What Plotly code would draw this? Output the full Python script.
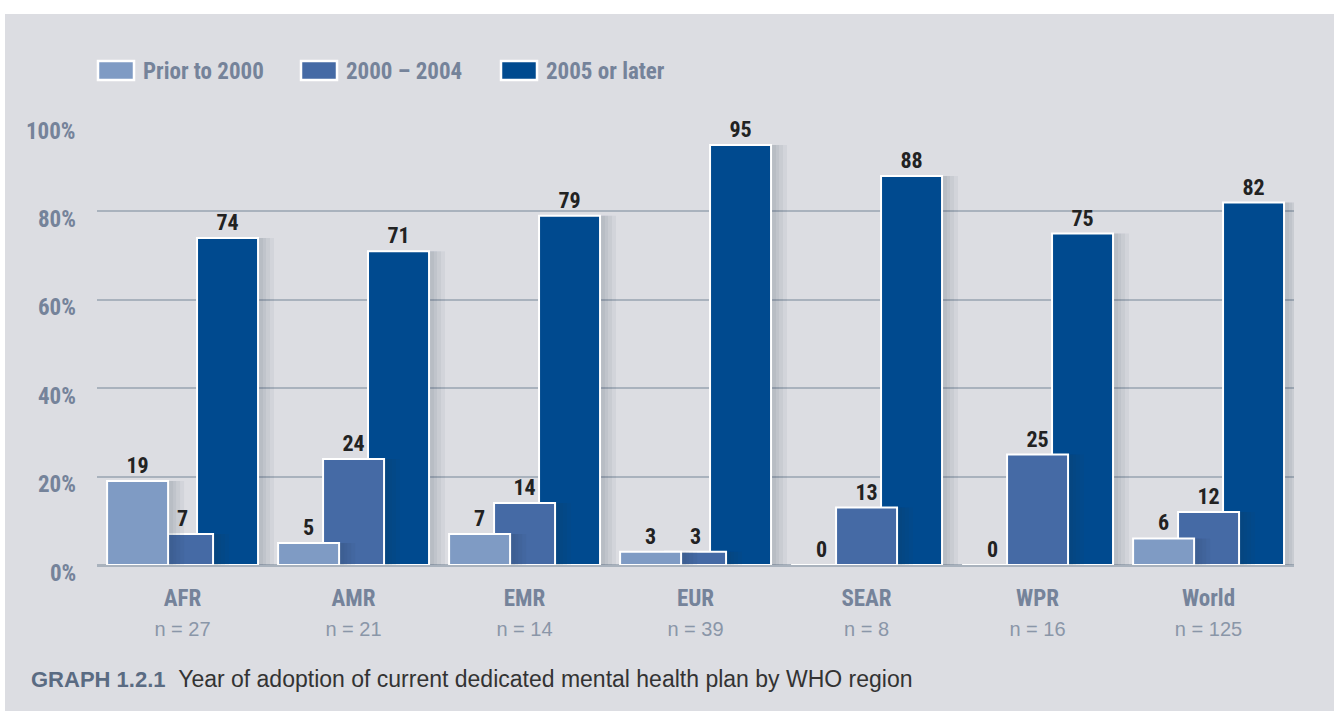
import plotly.graph_objects as go

regions = ["AFR", "AMR", "EMR", "EUR", "SEAR", "WPR", "World"]
n_counts = [27, 21, 14, 39, 8, 16, 125]
prior_2000 = [19, 5, 7, 3, 0, 0, 6]
y2000_2004 = [7, 24, 14, 3, 13, 25, 12]
y2005_later = [74, 71, 79, 95, 88, 75, 82]
y_ticks = [0, 20, 40, 60, 80, 100]
series_names = ["Prior to 2000", "2000 – 2004", "2005 or later"]
series_colors = ["#7f9bc4", "#456aa5", "#004a8f"]

NARROW = "Liberation Sans Narrow, Roboto Condensed, Arial Narrow, sans-serif"
SANS = "Liberation Sans, Arial, Helvetica, sans-serif"
BG = "#dcdde2"
GRID = "#a9b2bd"
LABEL = "#75839a"

W, H = 1334, 711
L, R, T, B = 97, 40, 123, 146
pw, ph = W - L - R, H - T - B
CAT_PX = pw / 7.0


def px2x(px):
    return (px - L) / pw


def px2y(py):
    return (H - B - py) / ph


tick_text = [
    f"<b>{r}</b><br><span style='font-family:{SANS};font-size:20px;color:#8a96a8'>n = {n}</span>"
    for r, n in zip(regions, n_counts)
]

bar_width = 61 / CAT_PX
offsets = [-0.441, -0.178, 0.085]
values = [prior_2000, y2000_2004, y2005_later]

fig = go.Figure()
# draw back-to-front: 2005, 2000-2004, prior (prior is in front)
for idx in [2, 1, 0]:
    vals = values[idx]
    # soft shadow layers to the right of each bar
    for ext in [14, 10, 6, 3]:
        fig.add_trace(go.Bar(
            x=regions, y=vals, showlegend=False, hoverinfo="skip",
            marker=dict(color="rgba(40,50,80,0.05)", line=dict(width=0)),
            offset=offsets[idx] + 2 / CAT_PX, width=bar_width + ext / CAT_PX,
        ))
    fig.add_trace(go.Bar(
        x=regions, y=vals, name=series_names[idx], showlegend=False,
        marker=dict(color=series_colors[idx], line=dict(color="white", width=2)),
        offset=offsets[idx], width=bar_width,
        text=[str(v) for v in vals], textposition="outside",
        textfont=dict(family=NARROW, size=22, color="#222222"),
        texttemplate="<b>%{text}</b>",
        constraintext="none", cliponaxis=False,
    ))

shapes = [
    dict(type="rect", xref="paper", yref="paper",
         x0=px2x(-5), x1=px2x(W + 5), y0=px2y(14), y1=px2y(-5),
         fillcolor="white", line=dict(width=0), layer="above"),
    dict(type="rect", xref="paper", yref="paper",
         x0=px2x(-5), x1=px2x(5), y0=px2y(H + 5), y1=px2y(-5),
         fillcolor="white", line=dict(width=0), layer="above"),
]
annotations = []
legend_swatch_x = [97, 300, 500]
for i, name in enumerate(series_names):
    x0 = legend_swatch_x[i]
    shapes.append(dict(type="rect", xref="paper", yref="paper",
                       x0=px2x(x0 + 1), x1=px2x(x0 + 37), y0=px2y(80), y1=px2y(61),
                       fillcolor=series_colors[i], line=dict(color="white", width=2.5)))
    annotations.append(dict(xref="paper", yref="paper", x=px2x(x0 + 44), y=px2y(72),
                            xanchor="left", yanchor="middle", showarrow=False,
                            text=f"<b>{name}</b>",
                            font=dict(family=NARROW, size=23, color=LABEL)))

# y-axis tick labels (sit slightly below their gridlines, as in the original)
for v in y_ticks:
    annotations.append(dict(xref="paper", yref="y", x=px2x(78), y=v,
                            xanchor="right", yanchor="middle", yshift=-8, showarrow=False,
                            text=f"<b>{v}%</b>",
                            font=dict(family=NARROW, size=23, color=LABEL)))

annotations.append(dict(
    xref="paper", yref="paper", x=px2x(29), y=px2y(679),
    xanchor="left", yanchor="middle", showarrow=False,
    text=f"<b><span style='color:#5a6b82;font-size:22px'>GRAPH 1.2.1</span></b>"
         f"<span style='font-size:12px'>  </span> Year of adoption of current dedicated mental health plan by WHO region",
    font=dict(family=SANS, size=23, color="#333333"),
))

fig.update_layout(
    width=W, height=H,
    margin=dict(l=L, r=R, t=T, b=B),
    paper_bgcolor=BG, plot_bgcolor=BG,
    barmode="overlay",
    font=dict(family=NARROW, color=LABEL),
    showlegend=False,
    xaxis=dict(
        type="category", range=[-0.5, 6.5],
        tickmode="array", tickvals=regions, ticktext=tick_text,
        tickfont=dict(family=NARROW, size=23, color=LABEL),
        showgrid=False, showline=False, zeroline=False,
        ticks="outside", ticklen=12, tickcolor="rgba(0,0,0,0)",
    ),
    yaxis=dict(
        range=[0, 100], tickmode="array", tickvals=y_ticks,
        showticklabels=False,
        showgrid=True, gridcolor=GRID, gridwidth=2,
        zeroline=True, zerolinecolor=GRID, zerolinewidth=3,
        showline=False, ticks="",
    ),
    shapes=shapes,
    annotations=annotations,
)

fig.write_html("out.html", config={"displayModeBar": False},
               post_script="document.body.style.margin='0';document.body.style.padding='0';")
